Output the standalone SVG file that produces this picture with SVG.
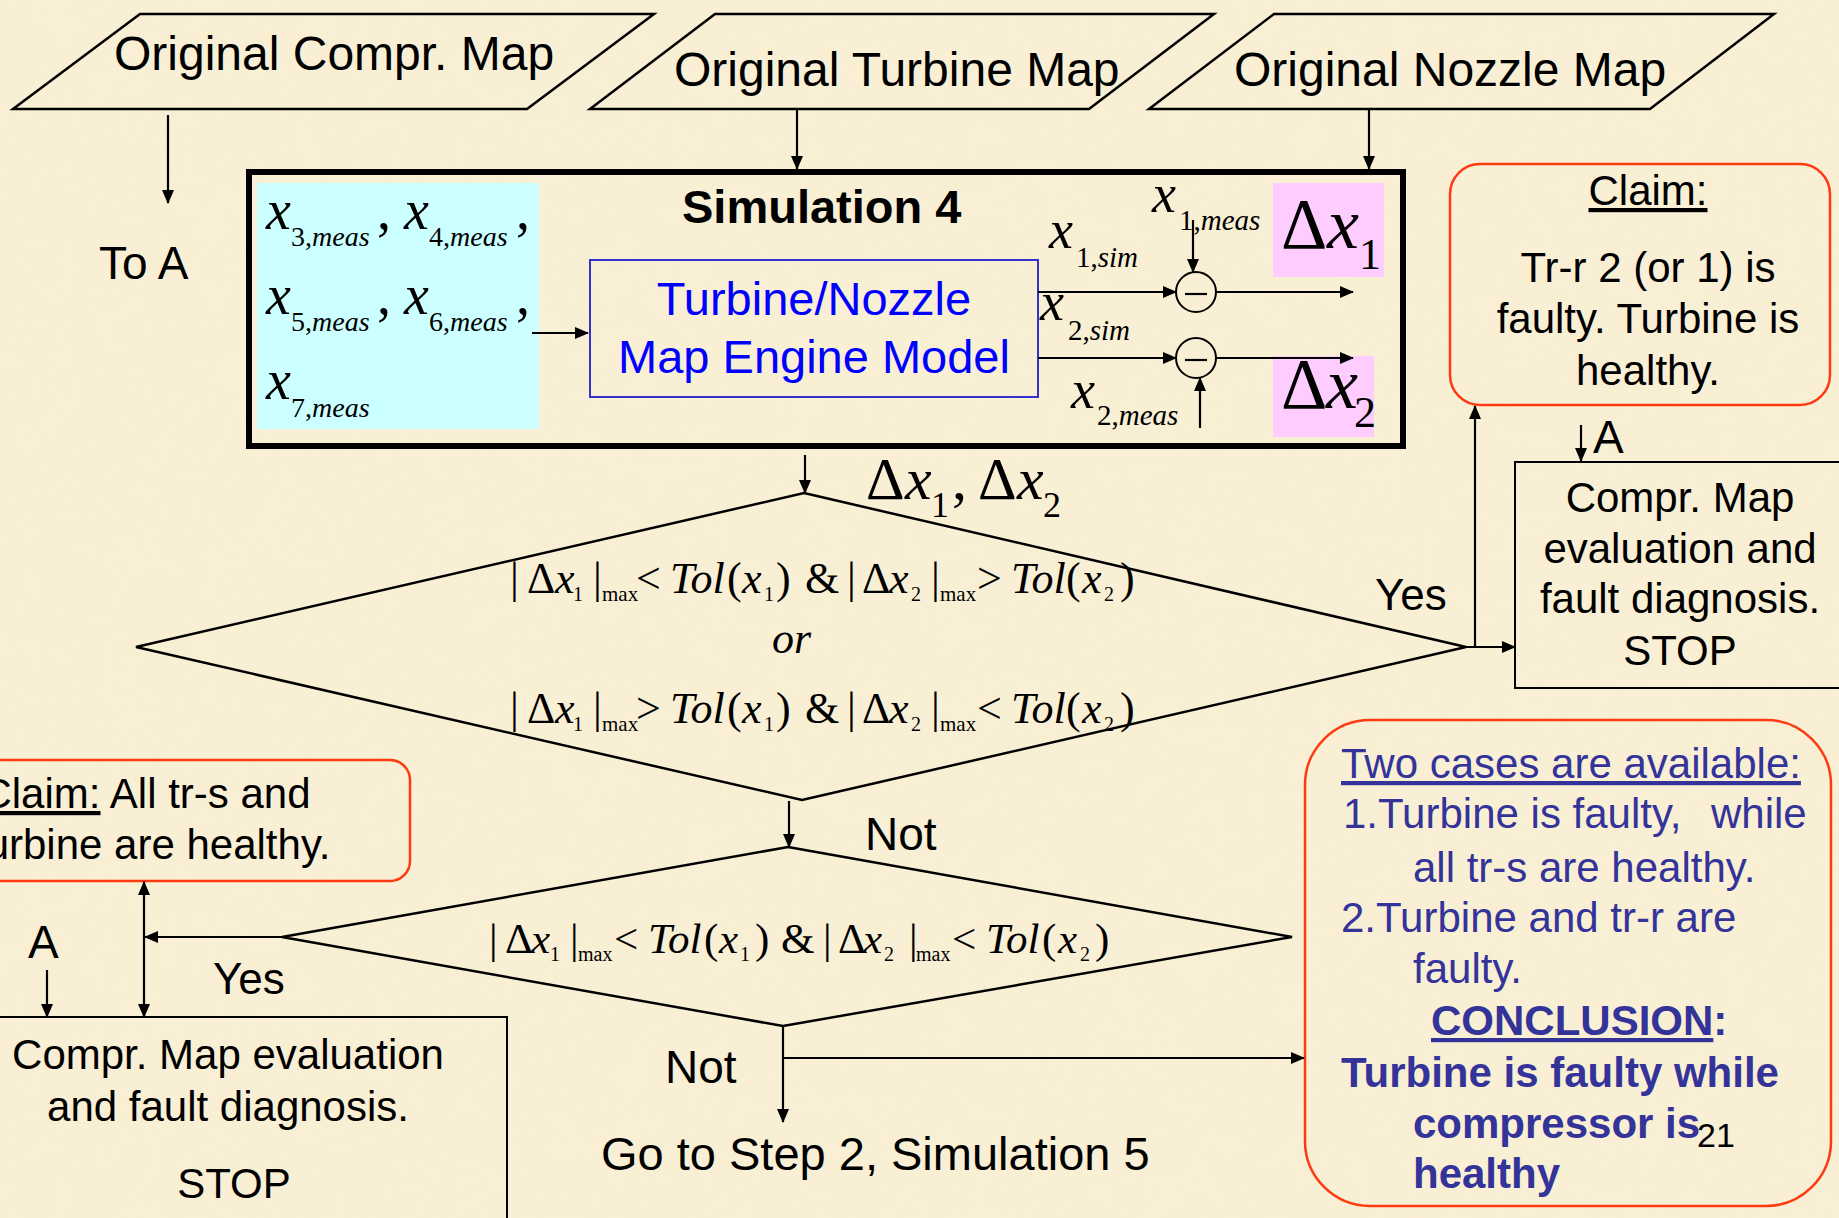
<svg xmlns="http://www.w3.org/2000/svg" width="1839" height="1218" viewBox="0 0 1839 1218">
<style>
.s{font-family:"Liberation Sans",Arial,sans-serif;fill:#000}
.m{font-family:"Liberation Serif","Times New Roman",serif;fill:#000}
.i{font-style:italic}
.ln{stroke:#000;stroke-width:2.2;fill:none}
.par{fill:none;stroke:#000;stroke-width:2.5}
.red{fill:none;stroke:#FF3A10;stroke-width:2.5}
.blk{fill:none;stroke:#000;stroke-width:2}
</style>
<defs>
<marker id="ah" markerWidth="14" markerHeight="12" refX="13" refY="6" orient="auto" markerUnits="userSpaceOnUse"><path d="M0,0 L14,6 L0,12 z" fill="#000"/></marker>
<marker id="as" markerWidth="14" markerHeight="12" refX="1" refY="6" orient="auto" markerUnits="userSpaceOnUse"><path d="M14,0 L0,6 L14,12 z" fill="#000"/></marker>
<filter id="tex" x="0" y="0" width="100%" height="100%">
<feTurbulence type="fractalNoise" baseFrequency="0.012" numOctaves="4" seed="7"/>
<feColorMatrix type="matrix" values="0 0 0 0 0.93  0 0 0 0 0.86  0 0 0 0 0.68  0 0 0 0.9 -0.25"/>
</filter>
</defs>
<rect x="0" y="0" width="1839" height="1218" fill="#F9EFD4"/>
<rect x="0" y="0" width="1839" height="1218" filter="url(#tex)" opacity="0.4"/>

<g id="compr-map">
<polygon class="par" points="140,14 654,14 527,109 13,109"/>
<text class="s" x="114" y="70" font-size="48">Original Compr. Map</text>
</g>
<g id="turbine-map">
<polygon class="par" points="715,14 1214,14 1089,109 590,109"/>
<text class="s" x="674" y="86" font-size="48">Original Turbine Map</text>
</g>
<g id="nozzle-map">
<polygon class="par" points="1274,14 1774,14 1650,109 1149,109"/>
<text class="s" x="1234" y="86" font-size="48">Original Nozzle Map</text>
</g>
<g id="to-a">
<text class="s" x="99" y="279" font-size="46">To A</text>
</g>

<g id="simulation4">
<rect x="249" y="172" width="1154" height="274" fill="none" stroke="#000" stroke-width="6"/>
<text class="s" x="682" y="223" font-size="47" font-weight="bold">Simulation 4</text>
</g>
<g id="measured-inputs">
<rect x="257" y="183" width="282" height="246" fill="#CCFFFF"/>
<text class="m i" x="266" y="229" font-size="56">x</text>
<text class="m" x="291" y="246" font-size="28">3,<tspan class="i">meas</tspan></text>
<text class="m" x="377" y="229" font-size="56">,</text>
<text class="m i" x="404" y="229" font-size="56">x</text>
<text class="m" x="429" y="246" font-size="28">4,<tspan class="i">meas</tspan></text>
<text class="m" x="516" y="229" font-size="56">,</text>
<text class="m i" x="266" y="314" font-size="56">x</text>
<text class="m" x="291" y="331" font-size="28">5,<tspan class="i">meas</tspan></text>
<text class="m" x="377" y="314" font-size="56">,</text>
<text class="m i" x="404" y="314" font-size="56">x</text>
<text class="m" x="429" y="331" font-size="28">6,<tspan class="i">meas</tspan></text>
<text class="m" x="516" y="314" font-size="56">,</text>
<text class="m i" x="266" y="399" font-size="56">x</text>
<text class="m" x="291" y="417" font-size="28">7,<tspan class="i">meas</tspan></text>
</g>
<g id="engine-model">
<rect x="590" y="260" width="448" height="137" fill="none" stroke="#3333CC" stroke-width="2"/>
<text class="s" x="814" y="315" font-size="47" text-anchor="middle" style="fill:#0000FF">Turbine/Nozzle</text>
<text class="s" x="814" y="373" font-size="47" text-anchor="middle" style="fill:#0000FF">Map Engine Model</text>
</g>
<g id="sum1">
<circle cx="1196" cy="292" r="20" class="blk"/>
<line x1="1185" y1="294" x2="1207" y2="294" stroke="#000" stroke-width="2.2"/>
</g>
<g id="sum2">
<circle cx="1196" cy="358" r="20" class="blk"/>
<line x1="1185" y1="360" x2="1207" y2="360" stroke="#000" stroke-width="2.2"/>
</g>
<g id="signal-labels">
<text class="m i" x="1049" y="248" font-size="54">x</text>
<text class="m" x="1076" y="267" font-size="29">1,<tspan class="i">sim</tspan></text>
<text class="m i" x="1152" y="212" font-size="54">x</text>
<text class="m" x="1179" y="230" font-size="29">1,<tspan class="i">meas</tspan></text>
<text class="m i" x="1040" y="320" font-size="54">x</text>
<text class="m" x="1068" y="340" font-size="29">2,<tspan class="i">sim</tspan></text>
<text class="m i" x="1071" y="408" font-size="54">x</text>
<text class="m" x="1097" y="425" font-size="29">2,<tspan class="i">meas</tspan></text>
</g>
<g id="delta-x1">
<rect x="1273" y="183" width="111" height="94" fill="#FFCCFF"/>
<text class="m" x="1281" y="248" font-size="72">Δ</text>
<text class="m i" x="1327" y="248" font-size="72">x</text>
<text class="m" x="1359" y="269" font-size="44">1</text>
</g>
<g id="delta-x2">
<rect x="1273" y="356" width="101" height="81" fill="#FFCCFF"/>
<text class="m" x="1281" y="408" font-size="72">Δ</text>
<text class="m i" x="1326" y="408" font-size="72">x</text>
<text class="m" x="1354" y="427" font-size="44">2</text>
</g>
<g id="delta-label">
<text class="m" x="866" y="499" font-size="60">Δ</text>
<text class="m i" x="905" y="499" font-size="60">x</text>
<text class="m" x="931" y="517" font-size="36">1</text>
<text class="m" x="952" y="499" font-size="60">,</text>
<text class="m" x="978" y="499" font-size="60">Δ</text>
<text class="m i" x="1017" y="499" font-size="60">x</text>
<text class="m" x="1043" y="517" font-size="36">2</text>
</g>

<g id="decision1">
<polygon class="par" points="804,493 1466,647 802,800 136,647"/>
<text class="m" font-size="44">
<tspan x="510" y="593">|</tspan><tspan x="527" y="593">Δ</tspan><tspan class="i" x="555" y="593">x</tspan><tspan x="573" y="601" font-size="20">1</tspan><tspan x="593" y="593">|</tspan><tspan x="602" y="601" font-size="21">max</tspan><tspan x="636" y="593">&lt;</tspan><tspan class="i" x="670" y="593">Tol</tspan><tspan x="727" y="593">(</tspan><tspan class="i" x="742" y="593">x</tspan><tspan x="764" y="601" font-size="20">1</tspan><tspan x="776" y="593">)</tspan><tspan x="805" y="593">&amp;</tspan><tspan x="847" y="593">|</tspan><tspan x="862" y="593">Δ</tspan><tspan class="i" x="889" y="593">x</tspan><tspan x="911" y="601" font-size="20">2</tspan><tspan x="931" y="593">|</tspan><tspan x="940" y="601" font-size="21">max</tspan><tspan x="977" y="593">&gt;</tspan><tspan class="i" x="1011" y="593">Tol</tspan><tspan x="1066" y="593">(</tspan><tspan class="i" x="1082" y="593">x</tspan><tspan x="1104" y="601" font-size="20">2</tspan><tspan x="1120" y="593">)</tspan>
</text>
<text class="m i" x="772" y="653" font-size="44">or</text>
<text class="m" font-size="44">
<tspan x="510" y="723">|</tspan><tspan x="527" y="723">Δ</tspan><tspan class="i" x="555" y="723">x</tspan><tspan x="573" y="731" font-size="20">1</tspan><tspan x="593" y="723">|</tspan><tspan x="602" y="731" font-size="21">max</tspan><tspan x="636" y="723">&gt;</tspan><tspan class="i" x="670" y="723">Tol</tspan><tspan x="727" y="723">(</tspan><tspan class="i" x="742" y="723">x</tspan><tspan x="764" y="731" font-size="20">1</tspan><tspan x="776" y="723">)</tspan><tspan x="805" y="723">&amp;</tspan><tspan x="847" y="723">|</tspan><tspan x="862" y="723">Δ</tspan><tspan class="i" x="889" y="723">x</tspan><tspan x="911" y="731" font-size="20">2</tspan><tspan x="931" y="723">|</tspan><tspan x="940" y="731" font-size="21">max</tspan><tspan x="977" y="723">&lt;</tspan><tspan class="i" x="1011" y="723">Tol</tspan><tspan x="1066" y="723">(</tspan><tspan class="i" x="1082" y="723">x</tspan><tspan x="1104" y="731" font-size="20">2</tspan><tspan x="1120" y="723">)</tspan>
</text>
</g>

<g id="decision2">
<polygon class="par" points="788,847 1292,937 783,1026 282,937"/>
<text class="m" font-size="43">
<tspan x="489" y="953">|</tspan><tspan x="505" y="953">Δ</tspan><tspan class="i" x="531" y="953">x</tspan><tspan x="550" y="961" font-size="20">1</tspan><tspan x="570" y="953">|</tspan><tspan x="578" y="961" font-size="20">max</tspan><tspan x="614" y="953">&lt;</tspan><tspan class="i" x="648" y="953">Tol</tspan><tspan x="704" y="953">(</tspan><tspan class="i" x="719" y="953">x</tspan><tspan x="740" y="961" font-size="20">1</tspan><tspan x="755" y="953">)</tspan><tspan x="781" y="953">&amp;</tspan><tspan x="823" y="953">|</tspan><tspan x="838" y="953">Δ</tspan><tspan class="i" x="863" y="953">x</tspan><tspan x="884" y="961" font-size="20">2</tspan><tspan x="909" y="953">|</tspan><tspan x="916" y="961" font-size="20">max</tspan><tspan x="952" y="953">&lt;</tspan><tspan class="i" x="986" y="953">Tol</tspan><tspan x="1042" y="953">(</tspan><tspan class="i" x="1058" y="953">x</tspan><tspan x="1080" y="961" font-size="20">2</tspan><tspan x="1095" y="953">)</tspan>
</text>
</g>

<g id="claim-right">
<rect x="1450" y="164" width="380" height="241" rx="30" class="red"/>
<text class="s" x="1648" y="205" font-size="42" text-anchor="middle" text-decoration="underline">Claim:</text>
<text class="s" x="1648" y="282" font-size="42" text-anchor="middle">Tr-r 2 (or 1) is</text>
<text class="s" x="1648" y="333" font-size="42" text-anchor="middle">faulty. Turbine is</text>
<text class="s" x="1648" y="385" font-size="42" text-anchor="middle">healthy.</text>
</g>
<g id="compr-eval-right">
<rect x="1515" y="462" width="330" height="226" class="blk"/>
<text class="s" x="1680" y="512" font-size="42" text-anchor="middle">Compr. Map</text>
<text class="s" x="1680" y="563" font-size="42" text-anchor="middle">evaluation and</text>
<text class="s" x="1680" y="613" font-size="42" text-anchor="middle">fault diagnosis.</text>
<text class="s" x="1680" y="665" font-size="42" text-anchor="middle">STOP</text>
</g>
<g id="conclusion">
<rect x="1305" y="720" width="526" height="486" rx="65" class="red"/>
<text class="s" x="1341" y="778" font-size="42" text-decoration="underline" style="fill:#333399">Two cases are available:</text>
<text class="s" x="1343" y="828" font-size="42" style="fill:#333399">1.Turbine is faulty,</text>
<text class="s" x="1711" y="828" font-size="42" style="fill:#333399">while</text>
<text class="s" x="1413" y="882" font-size="42" style="fill:#333399">all tr-s are healthy.</text>
<text class="s" x="1341" y="932" font-size="42" style="fill:#333399">2.Turbine and tr-r are</text>
<text class="s" x="1413" y="983" font-size="42" style="fill:#333399">faulty.</text>
<text class="s" x="1431" y="1035" font-size="42" font-weight="bold" style="fill:#333399"><tspan text-decoration="underline">CONCLUSION</tspan>:</text>
<text class="s" x="1341" y="1087" font-size="42" font-weight="bold" style="fill:#333399">Turbine is faulty while</text>
<text class="s" x="1413" y="1138" font-size="42" font-weight="bold" style="fill:#333399">compressor is</text>
<text class="s" x="1413" y="1188" font-size="42" font-weight="bold" style="fill:#333399">healthy</text>
<text class="s" x="1697" y="1147" font-size="34">21</text>
</g>
<g id="claim-left">
<rect x="-130" y="760" width="540" height="121" rx="20" class="red"/>
<text class="s" x="146" y="808" font-size="42" text-anchor="middle"><tspan text-decoration="underline">Claim:</tspan> All tr-s and</text>
<text class="s" x="146" y="859" font-size="42" text-anchor="middle">Turbine are healthy.</text>
</g>
<g id="compr-eval-left">
<rect x="-50" y="1017" width="557" height="230" class="blk"/>
<text class="s" x="228" y="1069" font-size="42" text-anchor="middle">Compr. Map evaluation</text>
<text class="s" x="228" y="1121" font-size="42" text-anchor="middle">and fault diagnosis.</text>
<text class="s" x="234" y="1198" font-size="42" text-anchor="middle">STOP</text>
</g>
<g id="go-step2">
<text class="s" x="601" y="1170" font-size="47">Go to Step 2, Simulation 5</text>
</g>

<g id="connectors">
<line class="ln" x1="168" y1="115" x2="168" y2="203" marker-end="url(#ah)"/>
<line class="ln" x1="797" y1="109" x2="797" y2="169" marker-end="url(#ah)"/>
<line class="ln" x1="1369" y1="109" x2="1369" y2="169" marker-end="url(#ah)"/>
<line class="ln" x1="532" y1="333" x2="588" y2="333" marker-end="url(#ah)"/>
<line class="ln" x1="1038" y1="292" x2="1176" y2="292" marker-end="url(#ah)"/>
<line class="ln" x1="1038" y1="358" x2="1176" y2="358" marker-end="url(#ah)"/>
<line class="ln" x1="1216" y1="292" x2="1353" y2="292" marker-end="url(#ah)"/>
<line class="ln" x1="1216" y1="358" x2="1353" y2="358" marker-end="url(#ah)"/>
<line class="ln" x1="1193" y1="220" x2="1193" y2="272" marker-end="url(#ah)"/>
<line class="ln" x1="1200" y1="428" x2="1200" y2="378" marker-end="url(#ah)"/>
<line class="ln" x1="805" y1="455" x2="805" y2="493" marker-end="url(#ah)"/>
<line class="ln" x1="1466" y1="647" x2="1515" y2="647" marker-end="url(#ah)"/>
<line class="ln" x1="1475" y1="647" x2="1475" y2="406" marker-end="url(#ah)"/>
<line class="ln" x1="1581" y1="425" x2="1581" y2="461" marker-end="url(#ah)"/>
<line class="ln" x1="789" y1="801" x2="789" y2="847" marker-end="url(#ah)"/>
<line class="ln" x1="282" y1="937" x2="145" y2="937" marker-end="url(#ah)"/>
<line class="ln" x1="144" y1="882" x2="144" y2="1017" marker-start="url(#as)" marker-end="url(#ah)"/>
<line class="ln" x1="47" y1="970" x2="47" y2="1017" marker-end="url(#ah)"/>
<line class="ln" x1="783" y1="1026" x2="783" y2="1122" marker-end="url(#ah)"/>
<line class="ln" x1="783" y1="1058" x2="1304" y2="1058" marker-end="url(#ah)"/>
</g>
<g id="connector-labels">
<text class="s" x="1375" y="610" font-size="44">Yes</text>
<text class="s" x="865" y="850" font-size="46">Not</text>
<text class="s" x="213" y="994" font-size="44">Yes</text>
<text class="s" x="28" y="958" font-size="46">A</text>
<text class="s" x="665" y="1083" font-size="46">Not</text>
<text class="s" x="1593" y="453" font-size="46">A</text>
</g>
</svg>
